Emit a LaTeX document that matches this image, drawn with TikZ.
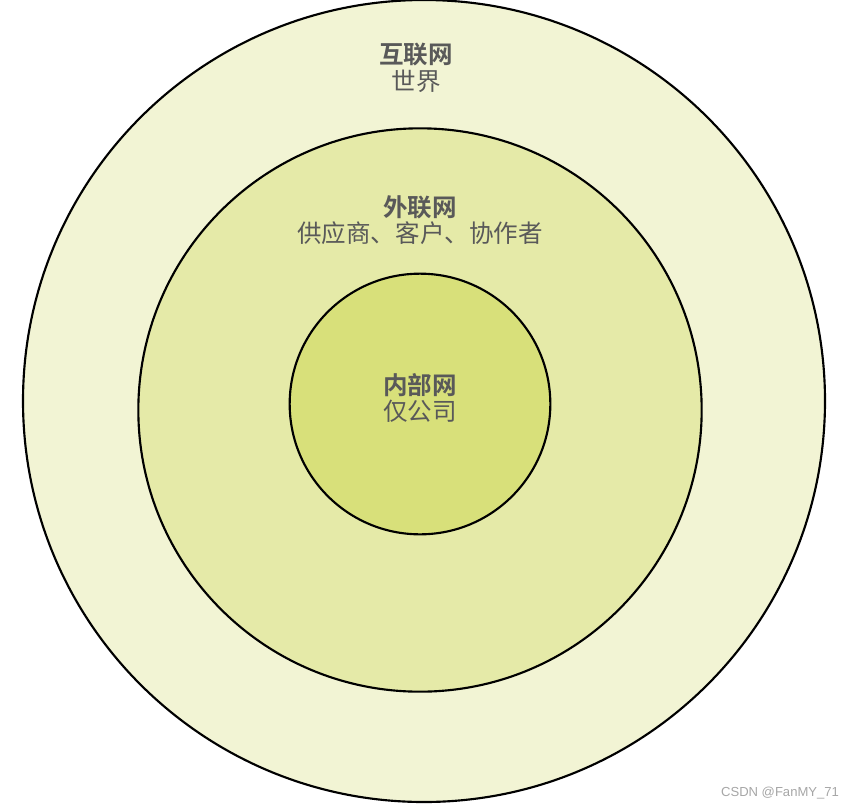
\documentclass[tikz,border=0pt]{standalone}
\usepackage{fontspec}
\newfontfamily\cjk{Noto Sans CJK SC}[BoldFont={Noto Sans CJK SC Bold}]
\setsansfont{Liberation Sans}
\usetikzlibrary{positioning}
\definecolor{outc}{HTML}{F2F4D4}
\definecolor{midc}{HTML}{E5EAA8}
\definecolor{innc}{HTML}{D8E07A}
\definecolor{txtc}{HTML}{595959}

\begin{document}
\begin{tikzpicture}[x=0.75pt, y=-0.75pt, line width=1.6pt,
    ring/.style={circle, draw=black, inner sep=0pt},
    lbl/.style={font=\cjk\fontsize{18.4}{20}\selectfont, text=txtc,
      align=center, inner sep=0pt}]
    \useasboundingbox (0,0) rectangle (855,810);
    % three nested rings
    \node[ring, fill=outc, minimum size=601.5pt] (world) at (424,401) {};
    \node[ring, fill=midc, minimum size=422.5pt] (extra) at (420,410) {};
    \node[ring, fill=innc, minimum size=195.5pt] (intra) at (420,404) {};
    % labels
    \node[lbl] (worldt) at (416,68) {\textbf{互联网}\\世界};
    \node[lbl] (extrat) at (420,220) {\textbf{外联网}\\供应商、客户、协作者};
    \node[lbl] (intrat) at (420,398) {\textbf{内部网}\\仅公司};
    \node[font=\sffamily\fontsize{9.8}{10}\selectfont, text=black!35,
      anchor=east, inner sep=0pt] (mark) at (840,793) {CSDN @FanMY\_71};
\end{tikzpicture}
\end{document}
